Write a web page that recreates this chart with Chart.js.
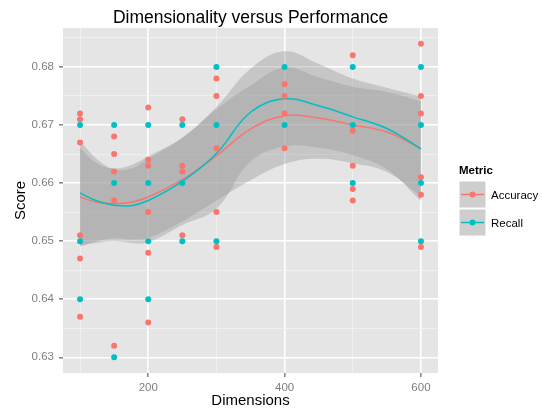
<!DOCTYPE html>
<html>
<head>
<meta charset="utf-8">
<script src="https://cdn.jsdelivr.net/npm/chart.js@4"></script>
<style>
  body { margin: 0; background: #fff; }
</style>
</head>
<body>
<canvas id="chart" width="542" height="410"></canvas>
<script>
// raw points
const accDims   = [100,100,100,100,100,100, 150,150,150,150,150, 200,200,200,200,200,200, 250,250,250,250, 300,300,300,300,300, 400,400,400,400, 500,500,500,500,500, 600,600,600,600,600,600];
const accScores = [0.672,0.671,0.667,0.651,0.647,0.637, 0.668,0.665,0.662,0.657,0.632, 0.673,0.664,0.663,0.655,0.648,0.636, 0.671,0.663,0.662,0.651, 0.678,0.675,0.666,0.655,0.649, 0.677,0.675,0.672,0.666, 0.682,0.669,0.663,0.659,0.657, 0.684,0.675,0.672,0.661,0.658,0.649];
const recDims   = [100,100,100, 150,150,150, 200,200,200,200, 250,250,250, 300,300,300, 400,400, 500,500,500, 600,600,600,600];
const recScores = [0.67,0.65,0.64, 0.67,0.66,0.63, 0.67,0.66,0.65,0.64, 0.67,0.66,0.65, 0.68,0.67,0.65, 0.68,0.67, 0.68,0.67,0.66, 0.68,0.67,0.66,0.65];

// smoothed fits + confidence bands
const fitDims  = [100, 125, 150, 175, 200, 250, 300, 350, 400, 450, 500, 550, 600];
const accFit   = [0.6576,0.6567,0.6565,0.6567,0.6576,0.6606,0.6647,0.6693,0.6716,0.6712,0.6700,0.6688,0.6659];
const accLow   = [0.6491,0.6500,0.6505,0.6503,0.6506,0.6534,0.6570,0.6605,0.6633,0.6642,0.6634,0.6619,0.6577];
const accHigh  = [0.6661,0.6634,0.6625,0.6631,0.6646,0.6678,0.6727,0.6768,0.6799,0.6782,0.6766,0.6757,0.6741];
const recFit   = [0.6583,0.6569,0.6562,0.6561,0.6570,0.6603,0.6651,0.6722,0.6745,0.6733,0.6714,0.6694,0.6659];
const recLow   = [0.6493,0.6497,0.6500,0.6497,0.6498,0.6528,0.6556,0.6637,0.6663,0.6661,0.6648,0.6624,0.6569];
const recHigh  = [0.6673,0.6641,0.6624,0.6625,0.6642,0.6678,0.6731,0.6797,0.6827,0.6805,0.6780,0.6764,0.6749];

const xTicks = [100, 200, 300, 400, 500, 600];
const yTicks = [0.630, 0.635, 0.640, 0.645, 0.650, 0.655, 0.660, 0.665, 0.670, 0.675, 0.680, 0.685];

const RED = '#F8766D', CYAN = '#00BFC4', BAND = 'rgba(153,153,153,0.4)';

function pts(xs, ys) { return xs.map((x, i) => ({x: x, y: ys[i]})); }

function curve(ys, color, fill) {
  return {
    data: pts(fitDims, ys),
    showLine: true,
    pointRadius: 0,
    borderColor: color,
    borderWidth: color === 'transparent' ? 0 : 1.5,
    tension: 0.4,
    backgroundColor: BAND,
    fill: fill
  };
}

function isMajorY(v) { return Math.round(v * 1000) % 10 === 0; }
function isMajorX(v) { return v % 200 === 0; }

// background, titles, legend
const decor = {
  id: 'decor',
  beforeDraw(chart) {
    const c = chart.ctx, a = chart.chartArea;
    c.save();
    c.fillStyle = '#E5E5E5';
    c.fillRect(a.left, a.top, a.right - a.left, a.bottom - a.top);
    c.restore();
  },
  afterDraw(chart) {
    const c = chart.ctx, a = chart.chartArea;
    const mid = (a.left + a.right) / 2;
    c.save();
    c.fillStyle = '#000';
    c.textAlign = 'center';
    c.textBaseline = 'alphabetic';
    c.font = '17.5px "Liberation Sans", Arial, sans-serif';
    c.fillText('Dimensionality versus Performance', mid, 23);
    c.font = '15px "Liberation Sans", Arial, sans-serif';
    c.fillText('Dimensions', mid, 405);
    c.save();
    c.translate(25, (a.top + a.bottom) / 2);
    c.rotate(-Math.PI / 2);
    c.fillText('Score', 0, 0);
    c.restore();

    // legend
    const lx = 459;
    c.textAlign = 'left';
    c.font = 'bold 11.5px "Liberation Sans", Arial, sans-serif';
    c.fillText('Metric', lx, 174);
    const items = [['Accuracy', RED], ['Recall', CYAN]];
    items.forEach((it, i) => {
      const top = 181 + i * 28;
      c.fillStyle = '#F2F2F2';
      c.fillRect(lx, top, 27, 27);
      c.fillStyle = BAND;
      c.fillRect(lx, top, 27, 27);
      c.strokeStyle = '#fff';
      c.lineWidth = 1;
      c.strokeRect(lx, top, 27, 27);
      c.strokeStyle = it[1];
      c.lineWidth = 1.5;
      c.beginPath();
      c.moveTo(lx + 2, top + 13.5);
      c.lineTo(lx + 25, top + 13.5);
      c.stroke();
      c.fillStyle = it[1];
      c.beginPath();
      c.arc(lx + 13.5, top + 13.5, 3, 0, Math.PI * 2);
      c.fill();
      c.fillStyle = '#000';
      c.font = '11.5px "Liberation Sans", Arial, sans-serif';
      c.fillText(it[0], lx + 32, top + 18);
    });
    c.restore();
  }
};

new Chart(document.getElementById('chart'), {
  type: 'scatter',
  data: {
    datasets: [
      { data: pts(recDims, recScores), backgroundColor: CYAN, borderWidth: 0, pointRadius: 3 },
      { data: pts(accDims, accScores), backgroundColor: RED, borderWidth: 0, pointRadius: 3 },
      curve(recFit, CYAN, false),
      curve(accFit, RED, false),
      curve(recHigh, 'transparent', '+1'),
      curve(recLow, 'transparent', false),
      curve(accHigh, 'transparent', '+1'),
      curve(accLow, 'transparent', false)
    ]
  },
  options: {
    responsive: false,
    animation: false,
    layout: { padding: { top: 28, right: 104, bottom: 0, left: 0 } },
    plugins: { legend: { display: false }, tooltip: { enabled: false } },
    scales: {
      x: {
        type: 'linear',
        min: 75, max: 625,
        afterBuildTicks: s => { s.ticks = xTicks.map(v => ({ value: v })); },
        afterFit: s => { s.height = 37; },
        border: { display: false },
        grid: {
          color: ctx => isMajorX(ctx.tick.value) ? '#FFFFFF' : '#F2F2F2',
          lineWidth: ctx => isMajorX(ctx.tick.value) ? 1.6 : 0.8,
          tickColor: ctx => isMajorX(ctx.tick.value) ? '#888' : 'rgba(0,0,0,0)',
          tickLength: 4
        },
        ticks: {
          autoSkip: false, maxRotation: 0, padding: 4,
          color: '#7F7F7F',
          font: { family: '"Liberation Sans", Arial, sans-serif', size: 11.5 },
          callback: v => isMajorX(v) ? String(v) : ''
        }
      },
      y: {
        min: 0.6273, max: 0.6867,
        afterBuildTicks: s => { s.ticks = yTicks.map(v => ({ value: v })); },
        afterFit: s => { s.width = 63; },
        border: { display: false },
        grid: {
          color: ctx => isMajorY(ctx.tick.value) ? '#FFFFFF' : '#F2F2F2',
          lineWidth: ctx => isMajorY(ctx.tick.value) ? 1.6 : 0.8,
          tickColor: ctx => isMajorY(ctx.tick.value) ? '#888' : 'rgba(0,0,0,0)',
          tickLength: 4
        },
        ticks: {
          autoSkip: false, padding: 5,
          color: '#7F7F7F',
          font: { family: '"Liberation Sans", Arial, sans-serif', size: 11.5 },
          callback: v => isMajorY(v) ? v.toFixed(2) : ''
        }
      }
    }
  },
  plugins: [decor]
});
</script>
</body>
</html>
